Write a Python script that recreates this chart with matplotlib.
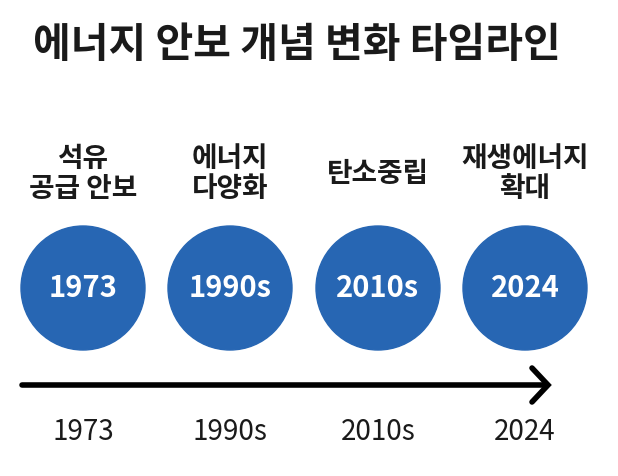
import matplotlib
matplotlib.use('Agg')
from matplotlib import pyplot as plt
from matplotlib.patches import Circle

plt.rcParams['font.family'] = ['Noto Sans CJK KR', 'DejaVu Sans']

title = '에너지 안보 개념 변화 타임라인'
periods = ['1973', '1990s', '2010s', '2024']
stages = ['석유\n공급 안보', '에너지\n다양화', '탄소중립', '재생에너지\n확대']

W, H = 618, 476
fig = plt.figure(figsize=(W / 100, H / 100), dpi=100)
ax = fig.add_axes([0, 0, 1, 1])
ax.set_xlim(0, W)
ax.set_ylim(H, 0)
ax.set_aspect('equal')
ax.axis('off')

ax.text(33, 45, title, fontsize=29.5, fontweight='bold', va='center', ha='left', color='#1a1a1a')

xs = [83, 230, 378, 525]
blue = '#2766b3'
for x, p, s in zip(xs, periods, stages):
    ax.add_patch(Circle((x, 288), 62, color=blue))
    ax.text(x, 288, p, fontsize=21, fontweight='bold', color='white', ha='center', va='center')
    ax.text(x, 174, s, fontsize=20, fontweight='bold', ha='center', va='center',
            linespacing=1.1, color='#1a1a1a')
    ax.text(x, 432, p, fontsize=20, fontweight='medium', ha='center', va='center', color='#1a1a1a')

ax.plot([22, 546], [385, 385], color='black', lw=4, solid_capstyle='round')
ax.plot([532, 548, 532], [368, 385, 402], color='black', lw=4, solid_capstyle='round',
        solid_joinstyle='miter')

fig.savefig('out.png', dpi=100)
